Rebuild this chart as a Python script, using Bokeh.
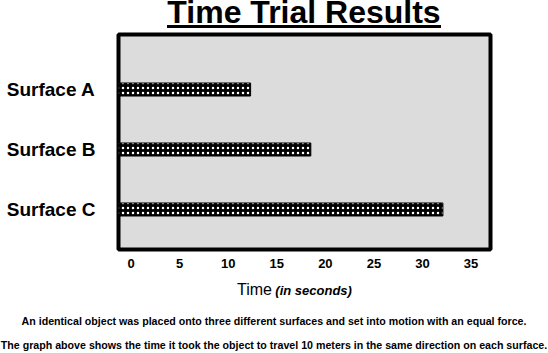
from bokeh.plotting import figure
from bokeh.models import Range1d, FixedTicker, ColumnDataSource, Div
from bokeh.layouts import column
from bokeh.embed import file_html
from bokeh.resources import INLINE

# ---- data ----
surfaces = ["Surface A", "Surface B", "Surface C"]
times = [12.3, 18.5, 32.1]
x_ticks = [0, 5, 10, 15, 20, 25, 30, 35]
title_text = "Time Trial Results"
xlabel_main = "Time"
xlabel_sub = "(in seconds)"
footer_1 = "An identical object was placed onto three different surfaces and set into motion with an equal force."
footer_2 = "The graph above shows the time it took the object to travel 10 meters in the same direction on each surface."

FONT = "Liberation Sans"
x_start, x_end = -1.3, 37.0
ypos = [3, 2, 1]

p = figure(width=548, height=245, output_backend="svg", toolbar_location=None,
           x_range=Range1d(x_start, x_end), y_range=Range1d(1 - 0.667, 3 + 0.917),
           min_border_left=118, min_border_right=58, min_border_top=4, min_border_bottom=26,
           margin=0)
p.background_fill_color = "#dcdcdc"
p.border_fill_color = "white"
p.outline_line_color = "black"
p.outline_line_width = 4
p.xgrid.visible = False
p.ygrid.visible = False

src = ColumnDataSource(dict(y=ypos, right=times, left=[x_start] * len(times)))
p.hbar(y="y", left="left", right="right", height=0.217, source=src,
       fill_color="black", line_color="black", line_width=1,
       hatch_pattern="dot", hatch_color="white", hatch_scale=5, hatch_weight=4)

xa = p.xaxis[0]
xa.ticker = FixedTicker(ticks=x_ticks)
xa.axis_line_color = None
xa.major_tick_line_color = None
xa.minor_tick_line_color = None
xa.major_tick_out = 0
xa.minor_tick_out = 0
xa.major_label_standoff = 9
xa.major_label_text_font = FONT
xa.major_label_text_font_style = "bold"
xa.major_label_text_font_size = "13px"
xa.major_label_text_color = "black"

ya = p.yaxis[0]
ya.ticker = FixedTicker(ticks=ypos)
ya.major_label_overrides = {y: s for y, s in zip(ypos, surfaces)}
ya.axis_line_color = None
ya.major_tick_line_color = None
ya.minor_tick_line_color = None
ya.major_tick_out = 0
ya.minor_tick_out = 0
ya.major_label_standoff = 23
ya.major_label_text_font = FONT
ya.major_label_text_font_style = "bold"
ya.major_label_text_font_size = "19px"
ya.major_label_text_color = "black"

title_div = Div(
    text=(f'<div style="font-family:\'{FONT}\';font-weight:bold;font-size:32px;line-height:25px;'
          f'height:30px;width:372px;margin-left:118px;text-align:center;color:black;">'
          f'<span style="display:inline-block;line-height:25px;border-bottom:3px solid black;">'
          f'{title_text}</span></div>'),
    width=548, height=30, margin=0)

bottom_div = Div(
    text=(f'<div style="font-family:\'{FONT}\';color:black;width:548px;">'
          f'<div style="height:30px;line-height:30px;padding-left:237px;white-space:nowrap;">'
          f'<span style="font-size:16px;">{xlabel_main}</span> '
          f'<span style="font-size:13px;font-weight:bold;font-style:italic;">{xlabel_sub}</span></div>'
          f'<div style="height:33px;line-height:33px;font-size:10.65px;font-weight:bold;text-align:center;white-space:nowrap;">{footer_1}</div>'
          f'<div style="height:15px;line-height:15px;font-size:10.65px;font-weight:bold;text-align:center;white-space:nowrap;">{footer_2}</div>'
          f'</div>'),
    width=548, height=78, margin=0)

layout = column(title_div, p, bottom_div, spacing=0, margin=0)

open("out.html", "w").write(file_html(layout, INLINE))
